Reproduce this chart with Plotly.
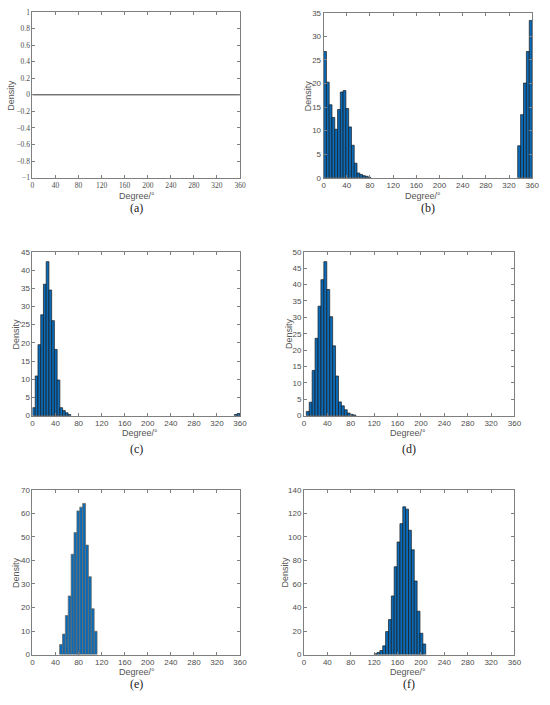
import numpy as np
import plotly.graph_objects as go

# ---- data ----
x_ticks = [0, 40, 80, 120, 160, 200, 240, 280, 320, 360]

# (a) nothing but a flat zero line
a_x = [0, 360]
a_y = [0, 0]

# (b) two clusters, wrapping round 0/360
b_left_start, b_left_w = 0, 4.8
b_left = [26.8, 20.3, 15.5, 12.8, 10.3, 14.5, 18.2, 18.5, 14.7, 10.8,
          6.9, 3.1, 1.0, 0.7, 0.45, 0.3, 0.1]
b_right_start, b_right_w = 335, 5
b_right = [6.8, 13.4, 20.1, 26.8, 33.4]

# (c)
c_start, c_w = 0, 4.75
c_vals = [2.2, 10.9, 19.5, 27.7, 36.1, 42.3, 34.5, 26.1, 18.2, 9.8,
          2.2, 1.4, 0.8, 0.3]
c_tail_start, c_tail_w = 350, 5
c_tail = [0.3, 0.6]

# (d)
d_start, d_w = 4, 5
d_vals = [1.3, 4.1, 13.8, 23.6, 33.4, 41.5, 47.0, 38.5, 30.2, 21.3,
          12.1, 4.2, 3.0, 1.8, 0.8, 0.4, 0.2]

# (e)
e_start, e_w = 47, 5
e_vals = [4.3, 8.7, 16.6, 24.9, 42.6, 51.8, 61.0, 62.6, 64.2, 46.5,
          33.1, 19.5, 9.9]

# (f)
f_start, f_w = 120, 4.9
f_vals = [0.8, 1.8, 3.5, 7.4, 19.5, 29.7, 49.8, 74.6, 95.6, 111.2,
          125.5, 123.5, 105.6, 89.0, 62.5, 36.8, 18.1, 9.0]

W, H = 550, 705
BAR = '#0b6bb8'
AX = '#7f7f7f'
TICKF = '#4d4d4d'


def centers(start, w, vals):
    return start + w * (np.arange(len(vals)) + 0.5)


def px(v):
    return v / W


def py(v):
    return 1 - v / H


fig = go.Figure()

# pixel boxes of the six panels: left, right, top, bottom
boxes = {
    'a': (31, 242, 8, 176),
    'b': (327, 539, 9, 176),
    'c': (31, 242, 251, 417),
    'd': (307, 521, 251, 417),
    'e': (31, 242, 492, 659),
    'f': (307, 521, 492, 659),
}
yranges = {'a': (-1, 1), 'b': (0, 35), 'c': (0, 45), 'd': (0, 50),
           'e': (0, 70), 'f': (0, 140)}
ydtick = {'a': 0.2, 'b': 5, 'c': 5, 'd': 5, 'e': 10, 'f': 20}
dens_x = {'a': 9, 'b': 311, 'c': 14, 'd': 292, 'e': 14, 'f': 288}
deg_x = {'a': 137, 'b': 428, 'c': 140, 'd': 413, 'e': 137, 'f': 413}
cap_y = {'a': 207, 'b': 207, 'c': 451, 'd': 451, 'e': 689, 'f': 689}

names = ['a', 'b', 'c', 'd', 'e', 'f']
for i, k in enumerate(names):
    l, r, t, b = boxes[k]
    sfx = '' if i == 0 else str(i + 1)
    serif = (k == 'a')
    tfont = dict(family='Liberation Serif' if serif else 'Liberation Sans',
                 size=7.5 if serif else 8, color=TICKF)
    common = dict(showline=True, linecolor=AX, linewidth=1, mirror='ticks',
                  ticks='inside', ticklen=3, tickcolor=AX, showgrid=False,
                  zeroline=False, tickfont=tfont)
    fig.layout['xaxis' + sfx] = dict(
        domain=[px(l), px(r)], anchor='y' + sfx, range=[0, 360],
        tickvals=x_ticks, **common)
    y0, y1 = yranges[k]
    yax = dict(domain=[py(b), py(t)], anchor='x' + sfx,
               range=[y0, y1], dtick=ydtick[k], tick0=y0, **common)
    if k == 'a':
        yv = np.round(np.arange(-1, 1.01, 0.2), 1)
        yax.pop('dtick'); yax.pop('tick0')
        yax['tickvals'] = list(yv)
        yax['ticktext'] = [('\u2212' if v < 0 else '') + ('%g' % abs(v)) for v in yv]
    fig.layout['yaxis' + sfx] = yax

    # axis titles and captions
    fig.add_annotation(x=px(deg_x[k]), y=py(b + 18), xanchor='center', yanchor='middle',
                       text='Degree/\u00b0', showarrow=False, xref='paper', yref='paper',
                       font=dict(family='Liberation Sans', size=9, color='#555555'))
    fig.add_annotation(x=px(dens_x[k]), y=py((t + b) / 2), xanchor='center',
                       yanchor='middle', text='Density', textangle=-90, showarrow=False,
                       xref='paper', yref='paper',
                       font=dict(family='Liberation Sans', size=9, color='#555555'))
    fig.add_annotation(x=px((l + r) / 2), y=py(cap_y[k]), xanchor='center',
                       yanchor='middle', text='(%s)' % k, showarrow=False,
                       xref='paper', yref='paper',
                       font=dict(family='Liberation Serif', size=12, color='#222222'))


def add_bars(start, w, vals, sfx, edge='#1a1a1a'):
    fig.add_trace(go.Bar(x=centers(start, w, vals), y=vals, width=w,
                         marker=dict(color=BAR, line=dict(color=edge, width=0.7)),
                         xaxis='x' + sfx, yaxis='y' + sfx, showlegend=False))


fig.add_trace(go.Scatter(x=a_x, y=a_y, mode='lines', line=dict(color='#333333', width=1),
                         xaxis='x', yaxis='y', showlegend=False))
add_bars(b_left_start, b_left_w, b_left, '2')
add_bars(b_right_start, b_right_w, b_right, '2')
add_bars(c_start, c_w, c_vals, '3')
add_bars(c_tail_start, c_tail_w, c_tail, '3')
add_bars(d_start, d_w, d_vals, '4')
add_bars(e_start, e_w, e_vals, '5', edge='#6e6a5e')
add_bars(f_start, f_w, f_vals, '6')

fig.update_layout(width=W, height=H, margin=dict(l=0, r=0, t=0, b=0),
                  paper_bgcolor='white', plot_bgcolor='white', barmode='overlay')

# drop the browser's default 8px body margin so the figure fills the window
fig.write_html("out.html", config={'displayModeBar': False},
               post_script="document.body.style.margin='0';")
